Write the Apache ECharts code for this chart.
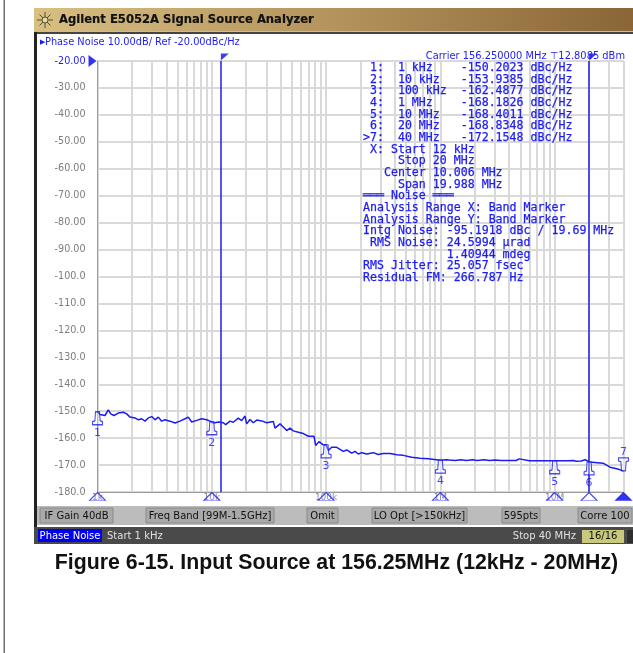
<!DOCTYPE html>
<html><head><meta charset="utf-8">
<style>html,body{margin:0;padding:0;background:#fff}#c{width:633px;height:653px}</style>
<script src="https://cdn.jsdelivr.net/npm/echarts@6/dist/echarts.min.js"></script>
</head><body><div id="c"></div>
<script>
const traceFreqs = [1000,1052,1163,1243,1305,1394,1520,1682,1801,1925,2129,2276,2437,2605,2786,2982,3186,3404,3645,3894,4300,4765,5270,5830,6230,6670,7380,8160,9020,9650,10000,10330,11440,11800,12600,13230,14430,15420,17050,18260,19520,20200,21590,23070,24700,27330,30220,34520,35720,39500,42220,45220,48320,51650,57120,63170,69870,78370,81100,86700,94500,100000,104500,111900,123800,141400,151500,167500,179000,191300,204900,226600,258800,286200,316000,362000,415000,473000,561000,663000,784000,1000000,1135000,1200000,1350000,1500000,1700000,1900000,2100000,2400000,2700000,3000000,3400000,4000000,4600000,4900000,5000000,6000000,8000000,10000000,13000000,14500000,15500000,17000000,18500000,20000000,26500000,30500000,34900000,40000000];
const traceDb = [-150.2,-151.2,-151.6,-149.5,-151.0,-151.6,-150.7,-150.4,-151.0,-152.2,-152.5,-153.2,-152.8,-153.7,-152.5,-152.0,-153.2,-152.2,-153.7,-153.2,-153.7,-154.4,-153.7,-152.8,-152.2,-154.0,-153.4,-152.8,-153.2,-153.7,-153.9,-154.4,-154.0,-154.7,-154.3,-155.0,-153.7,-154.1,-152.6,-153.5,-151.8,-154.7,-153.1,-154.3,-153.3,-153.6,-154.3,-153.8,-156.3,-154.7,-155.9,-157.2,-156.3,-157.3,-157.8,-158.3,-159.3,-159.3,-162.7,-161.3,-162.5,-162.5,-164.6,-163.4,-163.4,-164.9,-164.4,-165.6,-164.9,-165.9,-165.4,-165.9,-165.4,-166.1,-165.7,-165.7,-166.2,-166.4,-167.1,-167.5,-167.7,-168.18,-168.0,-168.1,-168.3,-168.0,-168.3,-168.0,-168.3,-168.0,-168.3,-168.1,-168.3,-168.3,-168.3,-167.7,-168.3,-168.4,-168.4,-168.4,-168.4,-168.3,-168.6,-168.5,-168.0,-168.83,-169.3,-170.8,-171.4,-172.15];

const markerFreqs = [1000,10000,100000,1000000,10000000,20000000,40000000];
const markerDb = [-150.2023,-153.9385,-162.4877,-168.1826,-168.4011,-168.8348,-172.1548];
const bandFreqs = [12000,20000000];
const gridFreqs = [1000,2000,3000,4000,5000,6000,7000,8000,9000,10000,20000,30000,40000,50000,60000,70000,80000,90000,100000,200000,300000,400000,500000,600000,700000,800000,900000,1000000,2000000,3000000,4000000,5000000,6000000,7000000,8000000,9000000,10000000,20000000,30000000,40000000];
const labelFreqs = [1000,10000,100000,1000000,10000000];
const freqLabels = ['1k','10k','100k','1M','10M'];
const dbTicks = ['-20.00','-30.00','-40.00','-50.00','-60.00','-70.00','-80.00','-90.00','-100.0','-110.0','-120.0','-130.0','-140.0','-150.0','-160.0','-170.0','-180.0'];

const annotationLines = [
' 1:  1 kHz    -150.2023 dBc/Hz',
' 2:  10 kHz   -153.9385 dBc/Hz',
' 3:  100 kHz  -162.4877 dBc/Hz',
' 4:  1 MHz    -168.1826 dBc/Hz',
' 5:  10 MHz   -168.4011 dBc/Hz',
' 6:  20 MHz   -168.8348 dBc/Hz',
'>7:  40 MHz   -172.1548 dBc/Hz',
' X: Start 12 kHz',
'     Stop 20 MHz',
'   Center 10.006 MHz',
'     Span 19.988 MHz',
'═══ Noise ═══',
'Analysis Range X: Band Marker',
'Analysis Range Y: Band Marker',
'Intg Noise: -95.1918 dBc / 19.69 MHz',
' RMS Noise: 24.5994 µrad',
'            1.40944 mdeg',
'RMS Jitter: 25.057 fsec',
'Residual FM: 266.787 Hz'];

const softKeys = [
 ['IF Gain 40dB',40,73],['Freq Band [99M-1.5GHz]',146,128],['Omit',307,31],
 ['LO Opt [>150kHz]',372,95],['595pts',502,38],['Corre 100',578,54]];

const BLUE='#1c1cf0', UI='"DejaVu Sans",sans-serif', MONO='"DejaVu Sans Mono",monospace';
const bell='path://M3,0 L7,0 L7.6,9 L10,10 L10,13 L0,13 L0,10 L2.4,9 Z';
const bellDown='path://M0,0 L10,0 L10,3 L7.6,4 L7,13 L3,13 L2.4,4 L0,3 Z';

const graphic=[];
const rect=(x,y,w,h,fill,extra)=>graphic.push({type:'rect',silent:true,z:100,shape:{x,y,width:w,height:h},style:Object.assign({fill},extra||{})});
const text=(x,y,t,font,fill,align,stroke)=>graphic.push({type:'text',silent:true,z:101,x,y,style:Object.assign({text:t,font,fill,align:align||'left',verticalAlign:'middle'},stroke?{stroke:fill,lineWidth:stroke}:{})});

rect(3.5,0,1.5,653,'#6e6e6e');
rect(34,8,599,23,{type:'linear',x:0,y:0,x2:1,y2:0,colorStops:[{offset:0,color:'#d8bf82'},{offset:0.5,color:'#b4935c'},{offset:1,color:'#8a6636'}]});
rect(34,31,599,1,'#bdbdbd');
rect(34,32,599,2,'#444');
rect(34,32,3,512,'#222');
[[ -8,0,8,0],[0,-8,0,8],[-5.5,-5.5,5.5,5.5],[-5.5,5.5,5.5,-5.5]].forEach(s=>graphic.push({type:'line',silent:true,z:101,x:45,y:20,shape:{x1:s[0],y1:s[1],x2:s[2],y2:s[3]},style:{stroke:'#5a5030',lineWidth:1}}));
graphic.push({type:'circle',silent:true,z:102,x:45,y:20,shape:{r:3},style:{fill:'#e8d9a8',stroke:'#5a5030',lineWidth:1}});
text(59,20,'Agilent E5052A Signal Source Analyzer','bold 11.6px '+UI,'#111','left',0.2);
text(40,42,'▶','7px '+UI,BLUE);
text(45,42,'Phase Noise 10.00dB/ Ref -20.00dBc/Hz','9.8px '+UI,BLUE);
text(625,56,'Carrier 156.250000 MHz ⊤12.8085 dBm','9.9px '+UI,BLUE,'right');
annotationLines.forEach((l,i)=>text(363,68+i*11.67,l,'11.6px '+MONO,BLUE,'left',0.25));

rect(37,506,596,19,'#bcbcbc');
softKeys.forEach(k=>{
  rect(k[1],508,k[2],15,'#a9a9a9',{stroke:'#8a8a8a',lineWidth:1});
  text(k[1]+k[2]/2,516,k[0],'10px '+UI,'#111','center');
});
rect(34,527,599,17,'#4a4a4a');
rect(38,529,64,13,'#0000f0');
text(70,536,'Phase Noise','10px '+UI,'#fff','center');
text(107,536,'Start 1 kHz','10px '+UI,'#e0e0e0');
text(576,536,'Stop 40 MHz','10px '+UI,'#e0e0e0','right');
rect(582,530,42,13,'#c9c97c');
text(603,536,'16/16','10px '+UI,'#111','center');
rect(627,530,6,13,'#2e2e2e');
text(336.5,563,'Figure 6-15. Input Source at 156.25MHz (12kHz - 20MHz)','bold 21.3px "Liberation Sans",Arial,sans-serif','#111','center');

const chart=echarts.init(document.getElementById('c'),null,{renderer:'canvas'});
chart.setOption({
  animation:false,
  backgroundColor:'#fff',
  grid:{left:97.5,top:61,width:526,height:431,show:true,borderColor:'#9a9a9a',borderWidth:1,backgroundColor:'#fff'},
  xAxis:{type:'log',logBase:10,min:1000,max:40000000,
    axisLine:{show:true,lineStyle:{color:'#9a9a9a'}},
    axisTick:{show:false,customValues:gridFreqs},
    splitLine:{show:true,lineStyle:{color:'#d9d9d9',width:2}},
    minorSplitLine:{show:false},
    axisLabel:{show:true,customValues:labelFreqs,margin:1,showMinLabel:true,showMaxLabel:true,
      fontFamily:'DejaVu Sans',fontSize:9,color:'#8a8ab0',
      formatter:v=>freqLabels[labelFreqs.indexOf(+v)]||''}},
  yAxis:{type:'value',min:-180,max:-20,interval:10,
    axisLine:{show:true,lineStyle:{color:'#9a9a9a'}},axisTick:{show:false},
    splitLine:{show:true,lineStyle:{color:'#d9d9d9',width:2}},
    axisLabel:{margin:12,fontFamily:'DejaVu Sans',fontSize:9.6,
      color:v=>(+v===-20?'#1c1cf0':'#7d7d7d'),
      formatter:v=>dbTicks[Math.round((-20-v)/10)]}},
  graphic:{elements:graphic},
  series:[
   {type:'line',name:'Phase noise',data:traceFreqs.map((f,i)=>[f,traceDb[i]]),showSymbol:false,symbol:'none',z:5,
    lineStyle:{color:BLUE,width:1.5},
    markLine:{silent:true,symbol:'none',label:{show:false},lineStyle:{color:BLUE,width:1.5,type:'solid'},data:bandFreqs.map(f=>({xAxis:f}))}},
   {type:'scatter',name:'Markers',clip:false,z:6,
    data:markerFreqs.slice(0,6).map((f,i)=>({value:[f,markerDb[i]],name:String(i+1)})),
    symbol:bell,symbolSize:[10,13],symbolOffset:[0,6.5],
    itemStyle:{color:'rgba(255,255,255,0.4)',borderColor:BLUE,borderWidth:1.2},
    label:{show:true,position:'bottom',distance:2,formatter:'{b}',color:BLUE,fontFamily:'DejaVu Sans',fontSize:11}},
   {type:'scatter',name:'Active marker',clip:false,z:6,
    data:[{value:[markerFreqs[6],markerDb[6]],name:'7'}],
    symbol:bellDown,symbolSize:[10,13],symbolOffset:[0,-6.5],
    itemStyle:{color:'rgba(255,255,255,0.4)',borderColor:BLUE,borderWidth:1.2},
    label:{show:true,position:'top',distance:0,formatter:'{b}',color:BLUE,fontFamily:'DejaVu Sans',fontSize:11}},
   {type:'scatter',name:'Marker stops',clip:false,z:6,
    data:markerFreqs.map((f,i)=>({value:[f,-180],itemStyle:i===6?{color:'#0000f0'}:{}})),
    symbol:'triangle',symbolSize:[16,8],symbolOffset:[0,4.5],
    itemStyle:{color:'rgba(255,255,255,0)',borderColor:BLUE,borderWidth:1}},
   {type:'scatter',name:'Band flags',clip:false,z:6,
    data:bandFreqs.map(f=>[f,-20]),
    symbol:'path://M0,0 L8,0 L0,7 Z',symbolSize:[8,7],symbolOffset:[4,-4],itemStyle:{color:'#1010e0'}},
   {type:'scatter',name:'Reference',clip:false,z:6,
    data:[[1000,-20]],symbol:'path://M0,0 L8,6 L0,12 Z',symbolSize:[8,12],symbolOffset:[-5,0],itemStyle:{color:'#0000f0'}}
  ]
});
</script></body></html>
